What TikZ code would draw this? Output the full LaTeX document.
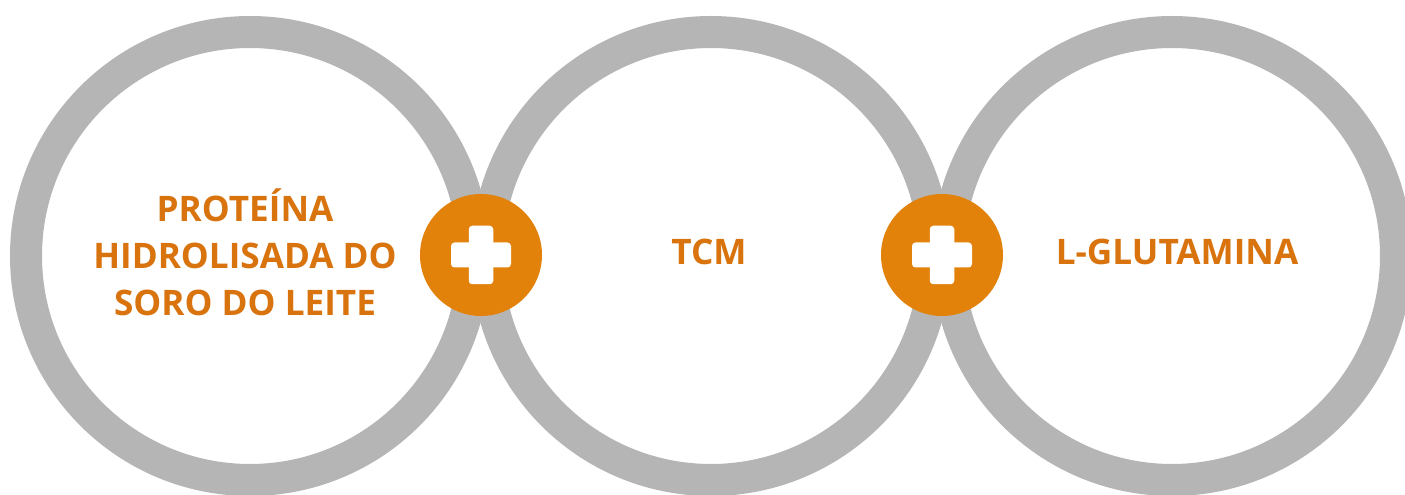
\documentclass[tikz,border=0pt]{standalone}
\usepackage{fontspec}
\setmainfont{Open Sans}
\usepackage{tikz}

\definecolor{ringgray}{HTML}{B5B5B5}
\definecolor{plusorange}{HTML}{E2820A}
\definecolor{textorange}{HTML}{D8730D}

\tikzset{
    ring/.style = {circle, draw = ringgray, line width = 0.64cm, minimum size = 8.96cm, inner sep = 0pt},
    plusdot/.style = {circle, fill = plusorange, minimum size = 2.44cm, inner sep = 0pt},
    plusbar/.style = {rectangle, fill = white, rounded corners = 0.07cm, inner sep = 0pt},
    txt/.style = {text = textorange, font = \fontsize{20}{26.7}\selectfont\bfseries, align = center}
}

\begin{document}
\begin{tikzpicture}
        \useasboundingbox [fill = white] (0,0) rectangle (28.1,9.9);
        \begin{scope}
            \node [ring] (r1) at (5.0,4.78) {};
            \node [ring] (r2) at (14.22,4.78) {};
            \node [ring] (r3) at (23.44,4.78) {};
            \node [txt] (t1) at (4.9,4.86) {PROTEÍNA\\HIDROLISADA DO\\SORO DO LEITE};
            \node [txt] (t2) at (14.18,4.86) {TCM};
            \node [txt] (t3) at (23.54,4.86) {L-GLUTAMINA};
            \node [plusdot] (p1) at (9.62,4.8) {};
            \node [plusdot] (p2) at (18.84,4.8) {};
            \node [plusbar, minimum width = 1.2cm, minimum height = 0.5cm] (h1) at (p1) {};
            \node [plusbar, minimum width = 0.49cm, minimum height = 1.17cm] (v1) at (p1) {};
            \node [plusbar, minimum width = 1.2cm, minimum height = 0.5cm] (h2) at (p2) {};
            \node [plusbar, minimum width = 0.49cm, minimum height = 1.17cm] (v2) at (p2) {};
        \end{scope}

    \end{tikzpicture}
\end{document}
